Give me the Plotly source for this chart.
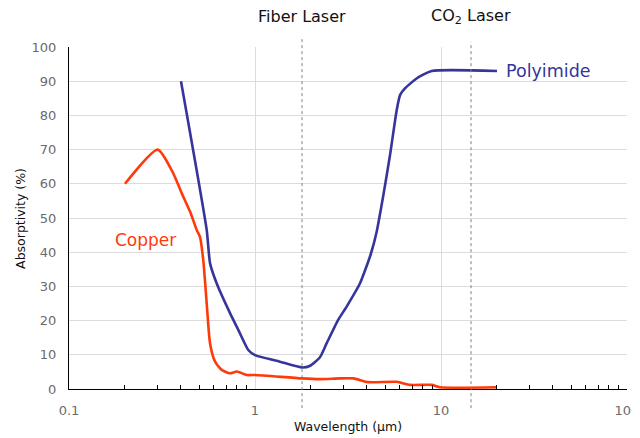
import plotly.graph_objects as go
import math

# Data (wavelength in µm, absorptivity in %)
copper_wl = [0.2, 0.3, 0.364, 0.404, 0.448, 0.486, 0.506, 0.527, 0.55, 0.573, 0.61, 0.662,
             0.735, 0.798, 0.902, 1.0, 1.79, 2.23, 2.86, 3.38, 4.07, 5.78, 6.81, 8.91, 9.89, 20]
copper_abs = [60, 70, 63, 57.2, 51.8, 46.5, 44.5, 37.7, 25, 13.4, 8, 5.6,
              4.6, 5.1, 4.1, 4.1, 3.1, 2.9, 3.1, 3.1, 2.0, 2.1, 1.2, 1.2, 0.5, 0.5]

poly_wl = [0.4, 0.55, 0.573, 0.622, 0.735, 0.813, 0.92, 1.0, 1.36, 1.79, 1.98, 2.23,
           2.43, 2.8, 3.11, 3.67, 4.19, 4.51, 4.9, 5.32, 5.78, 6.03, 6.4, 7.39, 8.91, 20]
poly_abs = [90, 46.5, 36.8, 30.9, 22.1, 17.3, 11.4, 9.9, 8.0, 6.3, 6.8, 9.2,
            13.4, 20.2, 24.1, 30.9, 39.4, 46, 56.7, 68.4, 81.6, 86, 87.9, 90.8, 93, 93]

laser_wl = [1.79, 14.5]
laser_names = ["Fiber Laser", "CO<sub>2</sub> Laser"]
laser_top = [1.032, 1.015]

x_tickvals = [0.1, 1, 10, 100]
x_ticktext = ["0.1", "1", "10", "100"]
x_minor_tickvals = [m * d for d in (0.1, 1, 10) for m in range(2, 10)]
y_tickvals = list(range(0, 101, 10))

COPPER = "#FF3A0A"
POLY = "#35359C"
FONT = "DejaVu Sans"

fig = go.Figure()
fig.add_trace(go.Scatter(x=copper_wl, y=copper_abs, mode="lines",
                         line=dict(color=COPPER, width=2.6, shape="spline", smoothing=0.6),
                         showlegend=False))
fig.add_trace(go.Scatter(x=poly_wl, y=poly_abs, mode="lines",
                         line=dict(color=POLY, width=2.6, shape="spline", smoothing=0.5),
                         showlegend=False))

for wl, name, top in zip(laser_wl, laser_names, laser_top):
    fig.add_shape(type="line", xref="x", yref="paper", x0=wl, x1=wl, y0=-0.056, y1=top,
                  line=dict(color="#808080", width=1, dash="dot"))
    fig.add_annotation(x=math.log10(wl), xref="x", y=1.09, yref="paper", text=name,
                       showarrow=False, font=dict(family=FONT, size=16, color="#111111"),
                       xanchor="center", yanchor="middle")

fig.add_annotation(x=0.783, xref="paper", y=93, yref="y", text="Polyimide", showarrow=False,
                   xanchor="left", yanchor="middle", xshift=-2,
                   font=dict(family=FONT, size=17.5, color=POLY))
fig.add_annotation(x=0.082, xref="paper", y=43.6, yref="y", text="Copper", showarrow=False,
                   xanchor="left", yanchor="middle", xshift=-2,
                   font=dict(family=FONT, size=17, color=COPPER))

fig.add_annotation(x=-0.088, xref="paper", y=0.5, yref="paper", text="Absorptivity (%)",
                   textangle=-90, showarrow=False, xanchor="center", yanchor="middle",
                   font=dict(family=FONT, size=12.5, color="#111111"))
fig.add_annotation(x=0.5, xref="paper", y=-0.111, yref="paper", text="Wavelength (µm)",
                   showarrow=False, xanchor="center", yanchor="middle",
                   font=dict(family=FONT, size=12.5, color="#111111"))

fig.update_layout(
    width=640, height=438,
    margin=dict(l=61, r=21, t=39, b=57, autoexpand=False),
    paper_bgcolor="white", plot_bgcolor="white",
    font=dict(family=FONT, size=13, color="#6b6b6b"),
    xaxis=dict(type="log", range=[-1, 2], tickvals=x_tickvals, ticktext=x_ticktext,
               showgrid=True, gridcolor="#dcdcdc", gridwidth=1,
               showline=True, linecolor="black", linewidth=1.2,
               ticks="", ticklabelstandoff=9, zeroline=False, automargin=False,
               ticklabeloverflow="allow",
               tickfont=dict(family=FONT, size=13, color="#6b6b6b"),
               minor=dict(tickvals=x_minor_tickvals, ticks="inside", ticklen=4,
                          tickcolor="black", tickwidth=1, showgrid=False)),
    yaxis=dict(range=[0, 100], tickvals=y_tickvals, showgrid=True, gridcolor="#dcdcdc",
               gridwidth=1, showline=True, linecolor="black", linewidth=1.2,
               ticks="", ticklabelstandoff=9, zeroline=False, automargin=False,
               tickfont=dict(family=FONT, size=13, color="#6b6b6b")),
)

fig.write_html("out.html")
